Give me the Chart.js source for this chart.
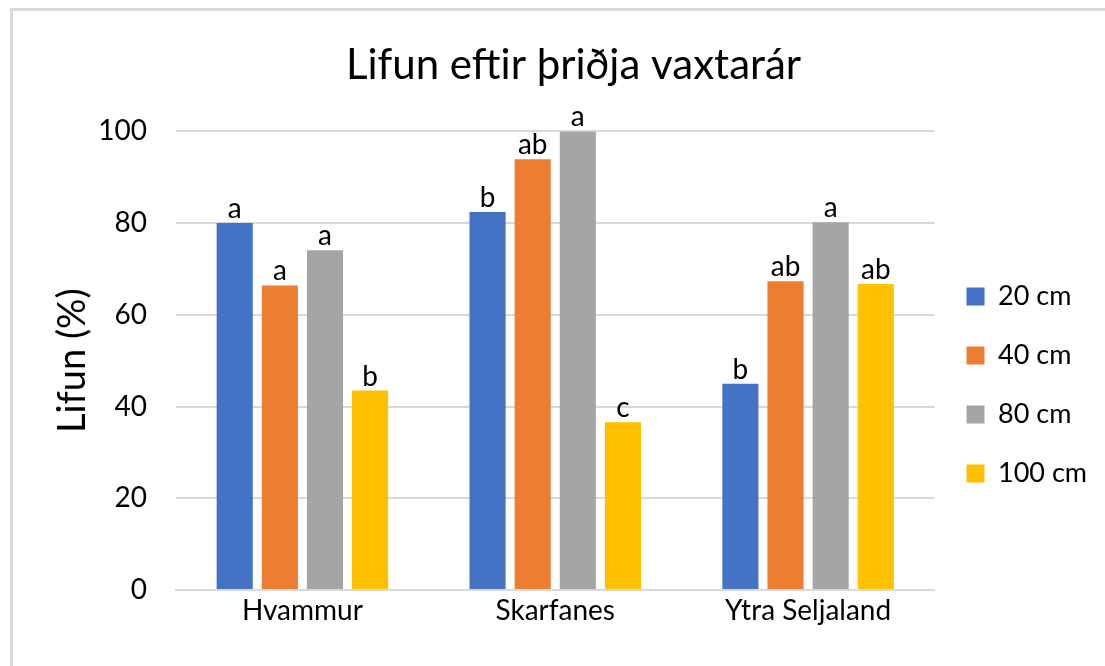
<!DOCTYPE html>
<html>
<head>
<meta charset="utf-8">
<script src="https://cdn.jsdelivr.net/npm/chart.js@4"></script>
<style>
  html, body { margin:0; padding:0; background:#fff; overflow:hidden; }
  #wrap { position:relative; width:1105px; height:666px; }
  #frame { position:absolute; left:10px; top:8px; width:1200px; height:800px; border:3px solid #d9d9d9; box-sizing:border-box; }
  canvas { position:absolute; left:0; top:0; }
</style>
</head>
<body>
<div id="wrap">
  <div id="frame"></div>
  <canvas id="chart" width="1105" height="666"></canvas>
</div>
<script>
// data
const categories = ["Hvammur", "Skarfanes", "Ytra Seljaland"];
const seriesNames = ["20 cm", "40 cm", "80 cm", "100 cm"];
const v20  = [80, 82.4, 45];
const v40  = [66.4, 93.9, 67.3];
const v80  = [74.1, 100, 80.2];
const v100 = [43.5, 36.6, 66.7];
const l20  = ["a", "b", "b"];
const l40  = ["a", "ab", "ab"];
const l80  = ["a", "a", "a"];
const l100 = ["b", "c", "ab"];
const yTicks = [0, 20, 40, 60, 80, 100];

const colors = ["#4472C4", "#ED7D31", "#A5A5A5", "#FFC000"];
const values = [v20, v40, v80, v100];
const letters = [l20, l40, l80, l100];
const font = "Lato, 'Open Sans', sans-serif";

// letters over the bars
const barLetters = {
  id: "barLetters",
  afterDatasetsDraw(chart) {
    const ctx = chart.ctx;
    ctx.save();
    ctx.font = "28px " + font;
    ctx.fillStyle = "#000";
    ctx.textAlign = "center";
    ctx.textBaseline = "alphabetic";
    chart.data.datasets.forEach((ds, i) => {
      chart.getDatasetMeta(i).data.forEach((bar, j) => {
        ctx.fillText(letters[i][j], bar.x, bar.y - 5);
      });
    });
    ctx.restore();
  }
};

new Chart(document.getElementById("chart"), {
  type: "bar",
  data: {
    labels: categories,
    datasets: seriesNames.map((n, i) => ({
      label: n,
      data: values[i],
      backgroundColor: colors[i],
      barPercentage: 0.8,
      categoryPercentage: 0.714
    }))
  },
  options: {
    responsive: false,
    animation: false,
    layout: { padding: { top: 0, right: 8, bottom: 0, left: 50 } },
    plugins: {
      title: {
        display: true,
        text: "Lifun eftir þriðja vaxtarár",
        color: "#000",
        font: { family: font, size: 42, weight: "normal" },
        padding: { top: 40, bottom: 41 }
      },
      legend: {
        position: "right",
        title: { display: true, text: " ", font: { size: 10 }, padding: { top: 92, bottom: 0 } },
        labels: {
          color: "#000",
          font: { family: font, size: 27 },
          boxWidth: 18,
          boxHeight: 18,
          padding: 32
        }
      },
      tooltip: { enabled: false }
    },
    scales: {
      x: {
        grid: { display: false },
        border: { color: "#d9d9d9", width: 2 },
        ticks: { color: "#000", font: { family: font, size: 28 }, padding: -4, maxRotation: 0 },
        afterFit(s) { s.height = 76; }
      },
      y: {
        min: 0,
        max: 100,
        afterBuildTicks(s) { s.ticks = yTicks.map(v => ({ value: v })); },
        grid: { color: "#d9d9d9", lineWidth: 2, drawTicks: false },
        border: { display: false },
        ticks: { color: "#000", font: { family: font, size: 28 }, padding: 29 },
        title: {
          display: true,
          text: "Lifun (%)",
          color: "#000",
          font: { family: font, size: 38 },
          padding: { top: 0, bottom: 0 }
        },
        afterFit(s) { s.width = 126; }
      }
    }
  },
  plugins: [barLetters]
});
</script>
</body>
</html>
